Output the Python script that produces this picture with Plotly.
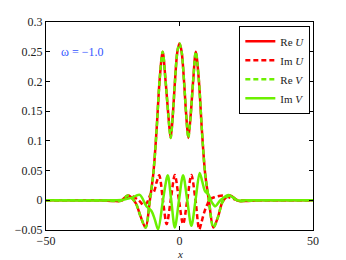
import plotly.graph_objects as go

# ---- data ----
x_re = [-50, -30, -25, -22, -19.3, -16.5, -14.6, -12.7, -11.1, -9.8, -8.6, -7.4, -6.3,
        -5.2, -4.2, -3.3, -2.5, -1.7, -0.8, 0, 0.8, 1.7, 2.5, 3.3, 4.2, 5.1, 6.1,
        7.2, 8.4, 9.6, 11.0, 12.7, 14.5, 16.2, 18.9, 22, 25, 30, 50]
re_u = [0, 0, -0.001, -0.001, 0.008, -0.004, -0.027, -0.046, 0.0, 0.045, 0.117, 0.205, 0.25,
        0.2, 0.144, 0.105, 0.144, 0.2, 0.25, 0.264, 0.25, 0.2, 0.144, 0.105, 0.144, 0.2, 0.25,
        0.205, 0.117, 0.045, 0.0, -0.046, -0.027, -0.002, 0.008, -0.001, -0.001, 0, 0]
re_v = [0, 0, -0.001, -0.001, 0.008, -0.004, -0.027, -0.046, 0.0, 0.045, 0.117, 0.205, 0.25,
        0.2, 0.144, 0.105, 0.144, 0.2, 0.25, 0.264, 0.25, 0.2, 0.144, 0.105, 0.144, 0.2, 0.25,
        0.205, 0.117, 0.045, 0.0, -0.046, -0.027, -0.002, 0.008, -0.001, -0.001, 0, 0]

x_imu = [-50, -25, -21.5, -18.4, -15.3, -13.4, -12.2, -10.8, -9.6, -8.6, -7.6, -6.2, -4.8,
         -3.3, -1.75, -0.2, 1.35, 2.9, 4.45, 6.0, 7.4, 8.3, 9.2, 10.3, 11.5, 13.0, 16.5,
         19.0, 22, 25, 50]
im_u = [0, 0, 0.0, 0.008, 0.0, -0.008, -0.004, 0.01, 0.014, 0.03, 0.042, 0.0, -0.040,
        0.0, 0.0425, 0.0, -0.040, 0.0, 0.0425, 0.0, -0.049, -0.036, -0.021, -0.008, 0.002, 0.005, 0.008,
        0.004, 0.0, 0, 0]

x_imv = [-50, -25, -21, -18, -14.9, -12.4, -10.5, -9.2, -8.0, -6.2, -4.4, -3.1, -1.75,
         -0.2, 1.35, 2.9, 4.45, 6.0, 7.55, 8.5, 9.6, 10.8, 12.2, 13.4, 15.3, 18.4, 21.5, 25, 50]
im_v = [0, 0, 0.001, 0.004, 0.009, -0.01, -0.018, -0.033, -0.049, 0.0, 0.042, 0.0, -0.046,
        0.0, 0.042, 0.0, -0.043, 0.0, 0.046, 0.032, 0.015, 0.01, -0.004, -0.01, 0.0, 0.009, 0.0, 0, 0]

y_ticks = [-0.05, 0, 0.05, 0.1, 0.15, 0.2, 0.25, 0.3]
y_tick_text = ["\u22120.05", "0", "0.05", "0.1", "0.15", "0.2", "0.25", "0.3"]
x_ticks = [-50, 0, 50]
x_tick_text = ["\u221250", "0", "50"]

RED = "#ff0000"
GREEN = "#6cf000"
FONT = "Liberation Serif, Times New Roman, serif"

fig = go.Figure()
fig.add_trace(go.Scatter(x=x_re, y=re_u, mode="lines", name="Re <i>U</i>",
                         line=dict(color=RED, width=2.5, shape="spline", smoothing=0.9)))
fig.add_trace(go.Scatter(x=x_imu, y=im_u, mode="lines", name="Im <i>U</i>",
                         line=dict(color=RED, width=2.5, dash="5px,3px", shape="spline", smoothing=0.9)))
fig.add_trace(go.Scatter(x=x_re, y=re_v, mode="lines", name="Re <i>V</i>",
                         line=dict(color=GREEN, width=2.5, dash="5px,3px", shape="spline", smoothing=0.9)))
fig.add_trace(go.Scatter(x=x_imv, y=im_v, mode="lines", name="Im <i>V</i>",
                         line=dict(color=GREEN, width=2.5, shape="spline", smoothing=0.9)))

# page body has an 8px default margin; margins compensate so the axes land where the reference has them
fig.update_layout(
    width=346, height=260,
    margin=dict(l=37.5, r=41, t=7, b=38),
    paper_bgcolor="white", plot_bgcolor="white",
    font=dict(family=FONT, size=12, color="#222"),
    showlegend=True,
    legend=dict(x=0.99, y=0.982, xanchor="right", yanchor="top",
                bgcolor="white", bordercolor="black", borderwidth=1,
                font=dict(family=FONT, size=11, color="#222"),
                tracegroupgap=0, itemwidth=30),
    annotations=[
        dict(x=-45, y=0.25, xref="x", yref="y", text="\u03c9 = \u22121.0",
             showarrow=False, xanchor="left", yanchor="middle",
             font=dict(family=FONT, size=12, color="#3355ff")),
        dict(x=0.5, y=0, xref="paper", yref="paper", text="<i>x</i>",
             showarrow=False, xanchor="center", yanchor="middle", yshift=-23.5,
             font=dict(family=FONT, size=11, color="#222")),
    ],
)
fig.update_xaxes(range=[-50, 50], tickvals=x_ticks, ticktext=x_tick_text,
                 showline=True, linecolor="black", linewidth=1, mirror="ticks",
                 ticks="inside", ticklen=4, tickcolor="black", showgrid=False, zeroline=False)
fig.update_yaxes(range=[-0.05, 0.3], tickvals=y_ticks, ticktext=y_tick_text,
                 showline=True, linecolor="black", linewidth=1, mirror="ticks",
                 ticks="inside", ticklen=4, tickcolor="black", showgrid=False, zeroline=False)

fig.write_html("out.html")
